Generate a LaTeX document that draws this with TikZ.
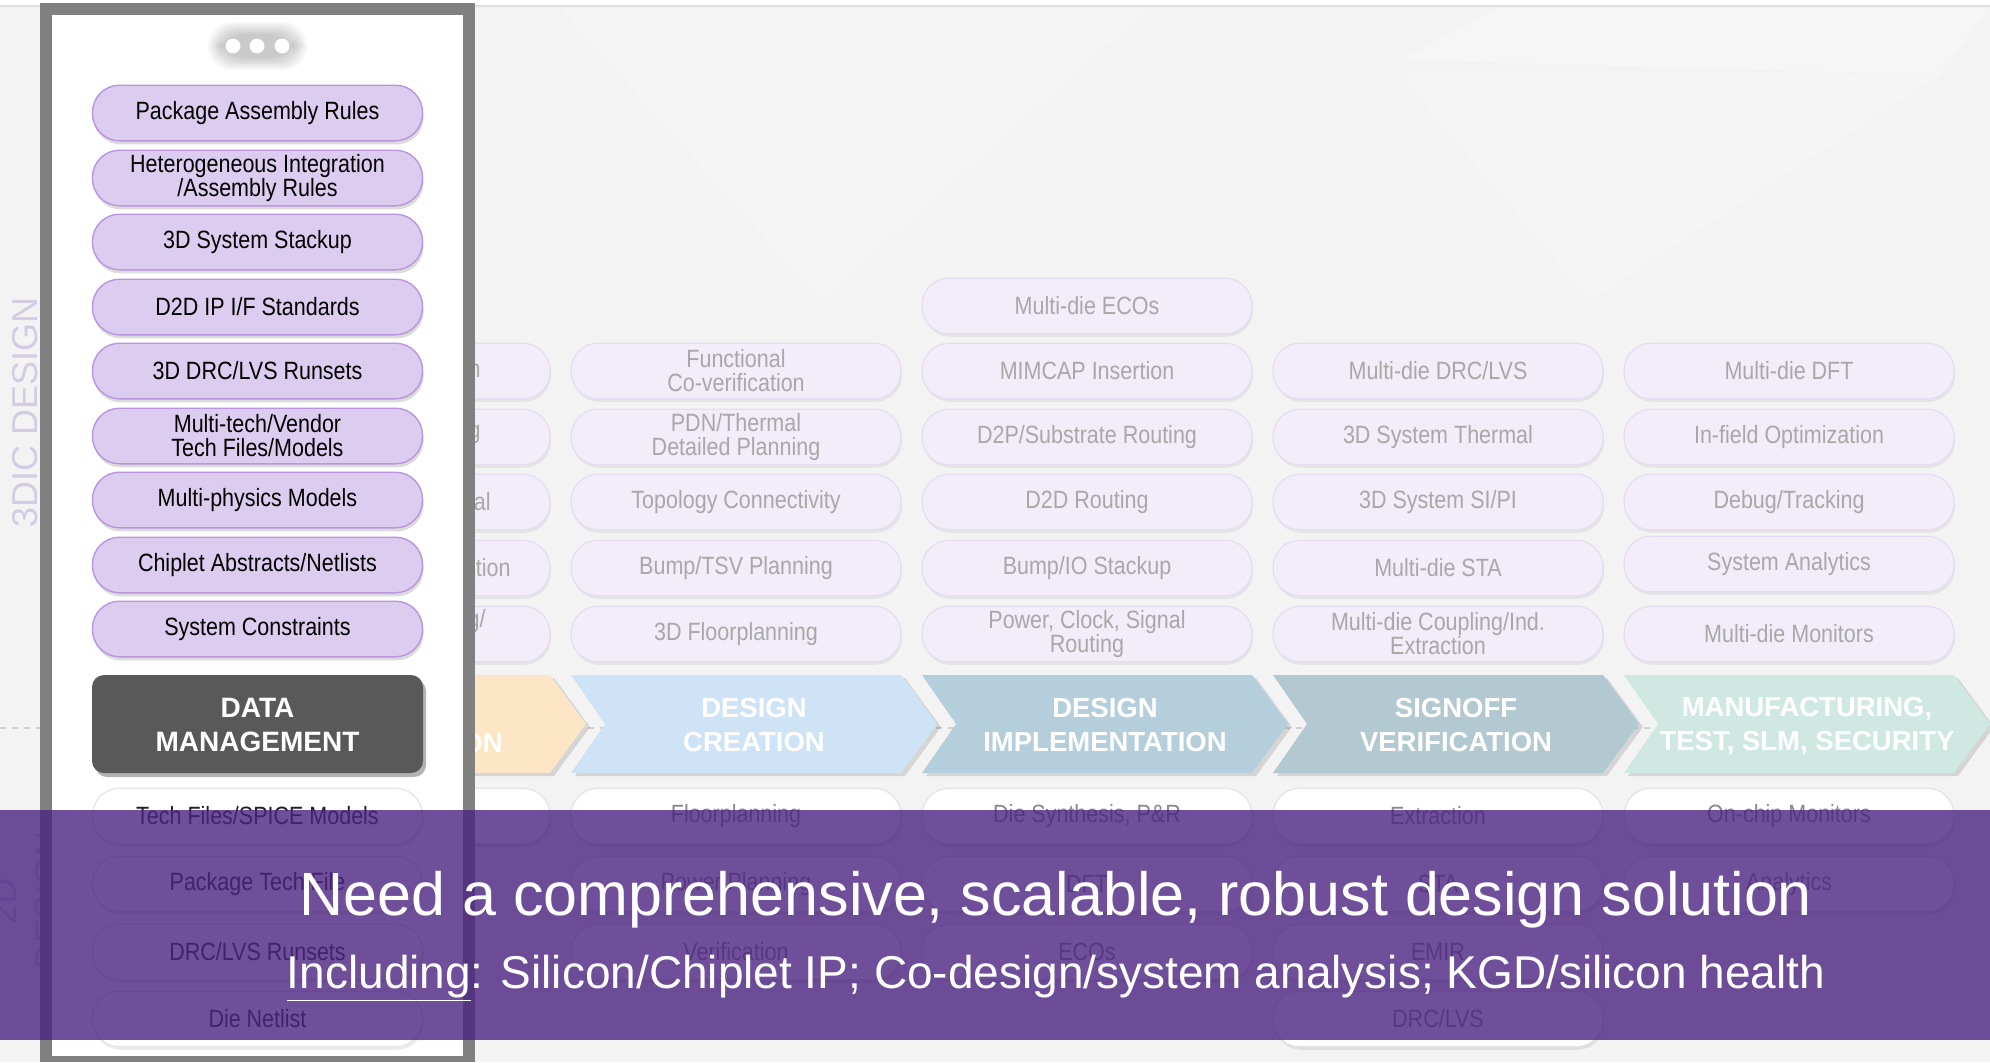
\documentclass[tikz,border=0pt]{standalone}
\usepackage{fontspec}
\setmainfont{Liberation Sans}
\newfontfamily\narrowfont{Liberation Sans}[FakeStretch=0.86]
\usetikzlibrary{shadows}

\definecolor{bgray}{HTML}{F3F3F3}
\definecolor{framegray}{HTML}{808080}
\definecolor{lpfill}{HTML}{DCCDF0}
\definecolor{lpline}{HTML}{B995E0}
\definecolor{fpfill}{HTML}{F2EDF9}
\definecolor{fpline}{HTML}{E6DDF4}
\definecolor{ftext}{HTML}{A8A8A8}
\definecolor{wtext}{HTML}{8A8A8A}
\definecolor{wline}{HTML}{E4E4E4}
\definecolor{dmgray}{HTML}{595959}
\definecolor{chorange}{HTML}{FDE6C6}
\definecolor{chblue}{HTML}{CFE3F6}
\definecolor{chimpl}{HTML}{B4CFDB}
\definecolor{chsign}{HTML}{B2C9D1}
\definecolor{chmfg}{HTML}{CFE9E2}
\definecolor{sidetext}{HTML}{D4CCE2}
\definecolor{banner}{RGB}{75,35,128}

\tikzset{
  pillbase/.style={rounded corners=13.5pt, minimum width=165pt, minimum height=27.8pt,
    inner sep=0pt, align=center, font=\narrowfont\fontsize{12.5}{12}\selectfont},
  dpill/.style={pillbase, fill=lpfill, draw=lpline, line width=0.7pt, text=black,
    drop shadow={shadow xshift=0.6pt, shadow yshift=-1.8pt, opacity=0.25, fill=black!55}},
  fpill/.style={pillbase, fill=fpfill, draw=fpline, line width=0.6pt, text=ftext,
    drop shadow={shadow xshift=0.6pt, shadow yshift=-1.5pt, opacity=0.06, fill=black}},
  wpill/.style={pillbase, fill=white, draw=wline, line width=0.6pt, text=#1,
    drop shadow={shadow xshift=0.6pt, shadow yshift=-1.5pt, opacity=0.08, fill=black}},
  wpill/.default=wtext,
  frag/.style={text=ftext, inner sep=0pt, anchor=east, font=\narrowfont\fontsize{12.5}{12}\selectfont},
  chevtext/.style={text=white, align=center, inner sep=0pt, font=\bfseries\fontsize{13.75}{17}\selectfont},
  sidelabel/.style={text=sidetext, rotate=90, anchor=base, inner sep=0pt, font=\fontsize{18}{18}\selectfont},
}

% one arrow-shaped phase banner: left x, colour
\newcommand\phaseshape[2]{%
  \fill[#2, drop shadow={shadow xshift=2pt, shadow yshift=-1.5pt, opacity=0.12, fill=black}]
    (#1,675) -- ++(330,0) -- ++(36,49) -- ++(-36,49) -- ++(-330,0) -- ++(34,-49) -- cycle;}

\begin{document}
\begin{tikzpicture}[x=0.5pt, y=-0.5pt]
\useasboundingbox (0,0) rectangle (1990,1062);

% backdrop with faint facets
\fill[bgray] (0,0) rectangle (1990,1062);
\fill[white, opacity=0.18] (560,7) -- (1150,7) -- (820,300) -- cycle;
\fill[white, opacity=0.25] (1400,60) -- (1940,75) -- (1990,7) -- (1500,7) -- cycle;
\fill[white, opacity=0.18] (1400,75) -- (1590,300) -- (1940,75) -- cycle;
\fill[white] (0,0) rectangle (1990,6);
\draw[black!12, line width=0.6pt] (0,6) -- (1990,6);

% divider between the 3D and 2D flows
\draw[black!18, line width=0.6pt, dash pattern=on 3pt off 3pt] (0,728) -- (1990,728);

% 3D flow steps
\node[fpill] (c0r1) at (385,371) {};
\node[fpill] (c0r2) at (385,437) {};
\node[fpill] (c0r3) at (385,502) {};
\node[fpill] (c0r4) at (385,568) {};
\node[fpill] (c0r5) at (385,634) {};
\node[frag] (f1) at (481,371) {n};
\node[frag] (f2) at (481,434) {g};
\node[frag] (f3) at (491,502) {al};
\node[frag] (f4) at (511,568) {tion};
\node[frag] (f5) at (486,621) {g/};

\node[fpill] (c1r1) at (736,371) {Functional\\Co-verification};
\node[fpill] (c1r2) at (736,437) {PDN/Thermal\\Detailed Planning};
\node[fpill] (c1r3) at (736,502) {Topology Connectivity};
\node[fpill] (c1r4) at (736,568) {Bump/TSV Planning};
\node[fpill] (c1r5) at (736,634) {3D Floorplanning};

\node[fpill] (c2r0) at (1087,306) {Multi-die ECOs};
\node[fpill] (c2r1) at (1087,371) {MIMCAP Insertion};
\node[fpill] (c2r2) at (1087,437) {D2P/Substrate Routing};
\node[fpill] (c2r3) at (1087,502) {D2D Routing};
\node[fpill] (c2r4) at (1087,568) {Bump/IO Stackup};
\node[fpill] (c2r5) at (1087,634) {Power, Clock, Signal\\Routing};

\node[fpill] (c3r1) at (1438,371) {Multi-die DRC/LVS};
\node[fpill] (c3r2) at (1438,437) {3D System Thermal};
\node[fpill] (c3r3) at (1438,502) {3D System SI/PI};
\node[fpill] (c3r4) at (1438,568) {Multi-die STA};
\node[fpill] (c3r5) at (1438,634) {Multi-die Coupling/Ind.\\Extraction};

\node[fpill] (c4r1) at (1789,371) {Multi-die DFT};
\node[fpill] (c4r2) at (1789,437) {In-field Optimization};
\node[fpill] (c4r3) at (1789,502) {Debug/Tracking};
\node[fpill] (c4r4) at (1789,564) {System Analytics};
\node[fpill] (c4r5) at (1789,634) {Multi-die Monitors};

% 2D flow steps
\node[wpill] (d0a) at (385,816) {};
\node[wpill] (d1a) at (736,816) {Floorplanning};
\node[wpill] (d1b) at (736,884) {Power Planning};
\node[wpill] (d1c) at (736,952) {Verification};
\node[wpill] (d2a) at (1087,816) {Die Synthesis, P\&R};
\node[wpill] (d2b) at (1087,884) {DFT};
\node[wpill] (d2c) at (1087,952) {ECOs};
\node[wpill] (d3a) at (1438,816) {Extraction};
\node[wpill] (d3b) at (1438,884) {STA};
\node[wpill] (d3c) at (1438,952) {EMIR};
\node[wpill] (d3d) at (1438,1019) {DRC/LVS};
\node[wpill] (d4a) at (1789,816) {On-chip Monitors};
\node[wpill] (d4b) at (1789,884) {Analytics};

% phase banners
\phaseshape{220}{chorange}
\phaseshape{571}{chblue}
\phaseshape{922}{chimpl}
\phaseshape{1273}{chsign}
\phaseshape{1624}{chmfg}

\node[chevtext, anchor=base east] (chEX) at (503,752) {ON};
\node[chevtext] (chDC) at (754,725) {DESIGN\\CREATION};
\node[chevtext] (chDI) at (1105,725) {DESIGN\\IMPLEMENTATION};
\node[chevtext] (chSV) at (1456,725) {SIGNOFF\\VERIFICATION};
\node[chevtext] (chMF) at (1807,726) {MANUFACTURING,\\TEST, SLM, SECURITY};

% side labels
\node[sidelabel] (lab3d) at (37,412) {3DIC DESIGN};
\node[sidelabel] (lab2d) at (17,901) {2D};
\node[sidelabel] (lab2dd) at (60,900) {DESIGN};

% data-management window
\fill[framegray] (40,3) rectangle (475,1062);
\fill[white] (52,15) rectangle (463,1056);

\foreach \k in {0,...,6}
  \fill[black, opacity=0.03, rounded corners=12pt] (220-2*\k,34-2*\k) rectangle (295+2*\k,58+2*\k);
\node[circle, fill=white, minimum size=7.4pt, inner sep=0pt] (dot1) at (233,46) {};
\node[circle, fill=white, minimum size=7.4pt, inner sep=0pt] (dot2) at (257,46) {};
\node[circle, fill=white, minimum size=7.4pt, inner sep=0pt] (dot3) at (282,46) {};

\node[dpill] (m1) at (257.5,113) {Package Assembly Rules};
\node[dpill] (m2) at (257.5,178) {Heterogeneous Integration\\/Assembly Rules};
\node[dpill] (m3) at (257.5,242) {3D System Stackup};
\node[dpill] (m4) at (257.5,307) {D2D IP I/F Standards};
\node[dpill] (m5) at (257.5,371) {3D DRC/LVS Runsets};
\node[dpill] (m6) at (257.5,436) {Multi-tech/Vendor\\Tech Files/Models};
\node[dpill] (m7) at (257.5,500) {Multi-physics Models};
\node[dpill] (m8) at (257.5,565) {Chiplet Abstracts/Netlists};
\node[dpill] (m9) at (257.5,629) {System Constraints};

\node[fill=dmgray, rounded corners=6pt, minimum width=165.5pt, minimum height=49pt,
  drop shadow={shadow xshift=1.5pt, shadow yshift=-2pt, opacity=0.3, fill=black}] (dm) at (257.5,724) {};
\node[chevtext, font=\bfseries\fontsize{14}{17}\selectfont] (dmt) at (257.5,725) {DATA\\MANAGEMENT};

\node[wpill=black!88] (n1) at (257.5,816) {Tech Files/SPICE Models};
\node[wpill=black!88] (n2) at (257.5,884) {Package Tech File};
\node[wpill=black!88] (n3) at (257.5,952) {DRC/LVS Runsets};
\node[wpill=black!88] (n4) at (257.5,1019) {Die Netlist};

% message banner
\fill[banner, opacity=0.8] (0,810) rectangle (1990,1040);
\node[anchor=base, text=white, inner sep=0pt, font=\fontsize{30.5}{30.5}\selectfont] (title) at (1056,915)
  {Need a comprehensive, scalable, robust design solution};
\node[anchor=base, text=white, inner sep=0pt, font=\fontsize{23}{23}\selectfont] (sub) at (1056,988)
  {\underline{Including}: Silicon/Chiplet IP; Co-design/system analysis; KGD/silicon health};
\end{tikzpicture}
\end{document}
